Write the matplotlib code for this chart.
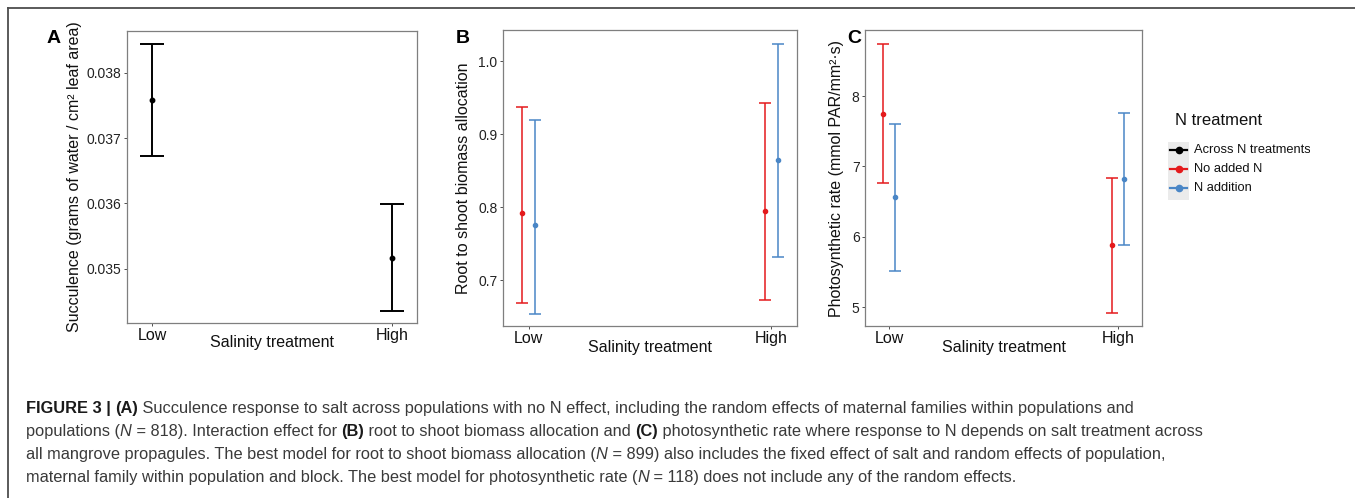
import matplotlib
matplotlib.use('Agg')
import matplotlib.pyplot as plt
from matplotlib import font_manager
from matplotlib.lines import Line2D
from matplotlib.patches import Rectangle
from matplotlib.transforms import Bbox, TransformedBbox

plt.rcParams['font.family'] = ['Liberation Sans', 'DejaVu Sans']

W, H = 1355, 498

# ---- data ----
salinity = ['Low', 'High']
n_groups = ['Across N treatments', 'No added N', 'N addition']

# (A) succulence, across N treatments
succ_mean = [0.03759, 0.03517]
succ_lo = [0.03673, 0.03436]
succ_hi = [0.03844, 0.03599]

# (B) root to shoot biomass allocation
rs_noN_mean = [0.792, 0.795]
rs_noN_lo = [0.668, 0.672]
rs_noN_hi = [0.937, 0.942]
rs_addN_mean = [0.775, 0.864]
rs_addN_lo = [0.654, 0.731]
rs_addN_hi = [0.919, 1.024]

# (C) photosynthetic rate
ps_noN_mean = [7.75, 5.88]
ps_noN_lo = [6.76, 4.91]
ps_noN_hi = [8.74, 6.84]
ps_addN_mean = [6.56, 6.82]
ps_addN_lo = [5.51, 5.88]
ps_addN_hi = [7.61, 7.76]

c_all = 'black'
c_noN = '#E41A1C'
c_addN = '#4A86C6'

fig = plt.figure(figsize=(W / 100, H / 100), dpi=100)


def px_axes(left, top, right, bottom):
    return fig.add_axes([left / W, 1 - bottom / H, (right - left) / W, (bottom - top) / H])


def style_axes(ax, xlab_y):
    for s in ax.spines.values():
        s.set_color('#7f7f7f')
        s.set_linewidth(0.9)
    ax.tick_params(axis='both', color='#333333', length=2.3, width=0.6, pad=1.6)
    ax.tick_params(axis='y', labelsize=10, labelcolor='#222222')
    ax.tick_params(axis='x', labelsize=11.5, labelcolor='#111111')
    ax.set_xticks([1, 2])
    ax.set_xticklabels(salinity)
    ax.set_xlim(1 - 0.105, 2 + 0.105)
    ax.set_xlabel('Salinity treatment', fontsize=11.5, color='#111111', va='center')
    ax.xaxis.set_label_coords(0.5, xlab_y)


def bars(ax, xs, mean, lo, hi, color, cap, lw, ms):
    yerr = [[m - l for m, l in zip(mean, lo)], [h - m for m, h in zip(mean, hi)]]
    ax.errorbar(xs, mean, yerr=yerr, fmt='o', color=color, ecolor=color, ms=ms,
                elinewidth=lw, capsize=cap, capthick=lw)


x = [1, 2]
dodge = 0.025

# panel A
axA = px_axes(127, 31, 417, 323)
bars(axA, x, succ_mean, succ_lo, succ_hi, c_all, 8.6, 1.4, 3.2)
axA.set_ylim(0.03417, 0.03864)
axA.set_yticks([0.035, 0.036, 0.037, 0.038])
axA.set_yticklabels(['0.035', '0.036', '0.037', '0.038'])
style_axes(axA, -0.068)
axA.set_ylabel('Succulence (grams of water / cm² leaf area)', fontsize=11.5, color='#111111', va='center')
axA.yaxis.set_label_coords((75 - 127) / 290, 0.5)

# panel B
axB = px_axes(503, 30, 797, 326)
bars(axB, [v - dodge for v in x], rs_noN_mean, rs_noN_lo, rs_noN_hi, c_noN, 4.3, 1.1, 3.0)
bars(axB, [v + dodge for v in x], rs_addN_mean, rs_addN_lo, rs_addN_hi, c_addN, 4.3, 1.1, 3.0)
axB.set_ylim(0.637, 1.0425)
axB.set_yticks([0.7, 0.8, 0.9, 1.0])
axB.set_yticklabels(['0.7', '0.8', '0.9', '1.0'])
style_axes(axB, -0.071)
axB.set_ylabel('Root to shoot biomass allocation', fontsize=11.5, color='#111111', va='center')
axB.yaxis.set_label_coords((463 - 503) / 294, 0.5)

# panel C
axC = px_axes(865, 30, 1142, 326)
bars(axC, [v - dodge for v in x], ps_noN_mean, ps_noN_lo, ps_noN_hi, c_noN, 4.0, 1.1, 3.0)
bars(axC, [v + dodge for v in x], ps_addN_mean, ps_addN_lo, ps_addN_hi, c_addN, 4.0, 1.1, 3.0)
axC.set_ylim(4.73, 8.94)
axC.set_yticks([5, 6, 7, 8])
style_axes(axC, -0.071)
axC.set_ylabel('Photosynthetic rate (mmol PAR/mm²·s)', fontsize=11.5, color='#111111', va='center')
axC.yaxis.set_label_coords((836 - 865) / 277, 0.5)

# panel letters
for lab, px in [('A', 47), ('B', 456), ('C', 847)]:
    fig.text(px / W, 1 - 43 / H, lab, fontsize=14, fontweight='bold', va='baseline', ha='left')

# legend (N treatment)
fig.text(1175 / W, 1 - 125 / H, 'N treatment', fontsize=12, color='#111111', va='baseline')
fig.add_artist(Rectangle((1168 / W, 1 - 200 / H), 21 / W, 58 / H, transform=fig.transFigure,
                         facecolor='#ebebeb', edgecolor='none'))
clip = TransformedBbox(Bbox([[0, 0], [1310 / W, 1]]), fig.transFigure)
for lab, col, yc in zip(n_groups, [c_all, c_noN, c_addN], [150, 169, 188]):
    fig.add_artist(Line2D([1170 / W, 1187 / W], [1 - yc / H] * 2, transform=fig.transFigure,
                          color=col, lw=1.6))
    fig.add_artist(Line2D([1178.5 / W], [1 - yc / H], transform=fig.transFigure,
                          color=col, marker='o', ms=4.5, lw=0))
    t = fig.text(1194 / W, 1 - yc / H, lab, fontsize=9.3, color='#111111', va='center')
    t.set_clip_box(clip)
    t.set_clip_on(True)

# outer frame of the figure
fig.add_artist(Line2D([8 / W, 1], [1 - 8 / H] * 2, transform=fig.transFigure, color='#4d4d4d', lw=1.3))
fig.add_artist(Line2D([8 / W] * 2, [0, 1 - 8 / H], transform=fig.transFigure, color='#4d4d4d', lw=1.3))

# caption
names = {f.name for f in font_manager.fontManager.ttflist}
cap_family = 'Liberation Sans Narrow' if 'Liberation Sans Narrow' in names else 'Liberation Sans'

caption = [
    [('FIGURE 3 | ', 'b'), ('(A)', 'b'),
     (' Succulence response to salt across populations with no N effect, including the random effects of maternal families within populations and', 'n')],
    [('populations (', 'n'), ('N', 'i'), (' = 818). Interaction effect for ', 'n'), ('(B)', 'b'),
     (' root to shoot biomass allocation and ', 'n'), ('(C)', 'b'),
     (' photosynthetic rate where response to N depends on salt treatment across', 'n')],
    [('all mangrove propagules. The best model for root to shoot biomass allocation (', 'n'), ('N', 'i'),
     (' = 899) also includes the fixed effect of salt and random effects of population,', 'n')],
    [('maternal family within population and block. The best model for photosynthetic rate (', 'n'), ('N', 'i'),
     (' = 118) does not include any of the random effects.', 'n')],
]
baselines = [413, 436, 459, 482]
line_widths_ref = [1069, 1279, 1086, 976]

renderer = fig.canvas.get_renderer()


def kw(style, size):
    return dict(fontsize=size, family=cap_family,
                fontweight='bold' if style == 'b' else 'normal',
                fontstyle='italic' if style == 'i' else 'normal')


def run_width(s, style, size):
    a = fig.text(0, 0, '|' + s + '|', **kw(style, size))
    b = fig.text(0, 0, '||', **kw(style, size))
    w = a.get_window_extent(renderer).width - b.get_window_extent(renderer).width
    a.remove()
    b.remove()
    return w


base = 11.0
w_all = sum(run_width(s, st, base) for line in caption for s, st in line)
cap_size = base * sum(line_widths_ref) / w_all
# keep the widest line inside the frame
w2 = sum(run_width(s, st, cap_size) for s, st in caption[1])
if w2 > 1310:
    cap_size *= 1310 / w2

for line, yb in zip(caption, baselines):
    xp = 26
    for s, st in line:
        col = '#1a1a1a' if st == 'b' else '#3a3a3a'
        fig.text(xp / W, 1 - yb / H, s, va='baseline', ha='left', color=col, **kw(st, cap_size))
        xp += run_width(s, st, cap_size)

fig.savefig('out.png', dpi=100)
